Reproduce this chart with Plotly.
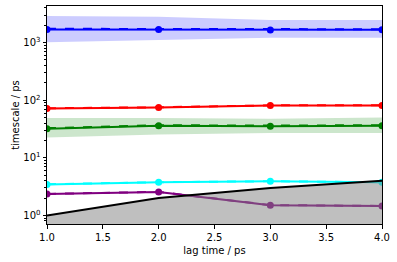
import plotly.graph_objects as go
import numpy as np

lags = [1, 2, 3, 4]

# implied timescales (ML estimate), sample means, and confidence bands
blue_ml = [1700, 1700, 1660, 1680]
blue_mean = [1740, 1740, 1700, 1710]
blue_lo = [1016, 1110, 1220, 1220]
blue_hi = [2900, 2830, 2470, 2470]

red_ml = [72, 75, 81, 81]
red_mean = [72.5, 75.5, 81.5, 81.5]
red_lo = [69.5, 72.5, 78.5, 78.5]
red_hi = [74.5, 77.5, 83.5, 83.5]

green_ml = [32, 36, 35.5, 36]
green_mean = [32.8, 36.8, 36.3, 36.9]
green_lo = [22.5, 25.5, 27, 27]
green_hi = [49, 49, 47.5, 50]

cyan_ml = [3.45, 3.75, 3.9, 3.75]
cyan_mean = [3.47, 3.77, 3.92, 3.77]
cyan_lo = [3.35, 3.65, 3.8, 3.65]
cyan_hi = [3.55, 3.85, 4.0, 3.85]

purple_ml = [2.35, 2.55, 1.5, 1.45]
purple_mean = [2.36, 2.56, 1.51, 1.46]
purple_lo = [2.27, 2.47, 1.45, 1.4]
purple_hi = [2.43, 2.63, 1.56, 1.51]

Y_MIN = 0.709
Y_MAX = 4330

series = [
    ("blue", (0, 0, 255), blue_ml, blue_mean, blue_lo, blue_hi),
    ("red", (255, 0, 0), red_ml, red_mean, red_lo, red_hi),
    ("green", (0, 128, 0), green_ml, green_mean, green_lo, green_hi),
    ("cyan", (0, 255, 255), cyan_ml, cyan_mean, cyan_lo, cyan_hi),
    ("purple", (128, 0, 128), purple_ml, purple_mean, purple_lo, purple_hi),
]

fig = go.Figure()
for name, rgb, ml, mean, lo, hi in series:
    col = "rgb(%d,%d,%d)" % rgb
    fig.add_trace(go.Scatter(
        x=lags + lags[::-1], y=hi + lo[::-1], fill="toself",
        fillcolor="rgba(%d,%d,%d,0.2)" % rgb, line=dict(width=0),
        mode="lines", hoverinfo="skip", showlegend=False))
    fig.add_trace(go.Scatter(
        x=lags, y=ml, mode="lines+markers", line=dict(color=col, width=2),
        marker=dict(color=col, size=7), showlegend=False))
    fig.add_trace(go.Scatter(
        x=lags, y=mean, mode="lines", line=dict(color=col, width=2, dash="dash"),
        showlegend=False))

# lag time line and the shaded region below it
fig.add_trace(go.Scatter(
    x=lags + lags[::-1], y=lags + [Y_MIN] * len(lags), fill="toself",
    fillcolor="rgba(128,128,128,0.5)", line=dict(width=0), mode="lines",
    hoverinfo="skip", showlegend=False))
fig.add_trace(go.Scatter(
    x=lags, y=lags, mode="lines", line=dict(color="black", width=2),
    showlegend=False))

major = [1, 10, 100, 1000]
major_text = ["10<sup>0</sup>", "10<sup>1</sup>", "10<sup>2</sup>", "10<sup>3</sup>"]
minor = [m * 10 ** e for e in range(-1, 4) for m in range(2, 10)
         if Y_MIN <= m * 10 ** e <= Y_MAX]

fig.update_layout(
    width=397, height=262,
    margin=dict(l=47, r=15, t=6, b=38),
    paper_bgcolor="white", plot_bgcolor="white",
    font=dict(family="DejaVu Sans", size=10, color="black"),
    showlegend=False,
    xaxis=dict(
        range=[1, 4], tickmode="array", tickvals=[1, 1.5, 2, 2.5, 3, 3.5, 4],
        ticktext=["1.0", "1.5", "2.0", "2.5", "3.0", "3.5", "4.0"],
        ticks="outside", ticklen=3.5, tickwidth=0.8, tickcolor="black",
        showline=True, linecolor="black", linewidth=1, mirror=True,
        showgrid=False, zeroline=False,
        title=dict(text="lag time / ps", standoff=5, font=dict(size=10)),
    ),
    yaxis=dict(
        type="log", range=[np.log10(Y_MIN), np.log10(Y_MAX)],
        tickmode="array", tickvals=major, ticktext=major_text,
        ticks="outside", ticklen=3.5, tickwidth=0.8, tickcolor="black",
        minor=dict(tickmode="array", tickvals=minor, ticks="outside",
                   ticklen=2, tickwidth=0.6, tickcolor="black", showgrid=False),
        showline=True, linecolor="black", linewidth=1, mirror=True,
        showgrid=False, zeroline=False,
        title=dict(text="timescale / ps", standoff=1, font=dict(size=10)),
    ),
)

fig.write_html("out.html")
